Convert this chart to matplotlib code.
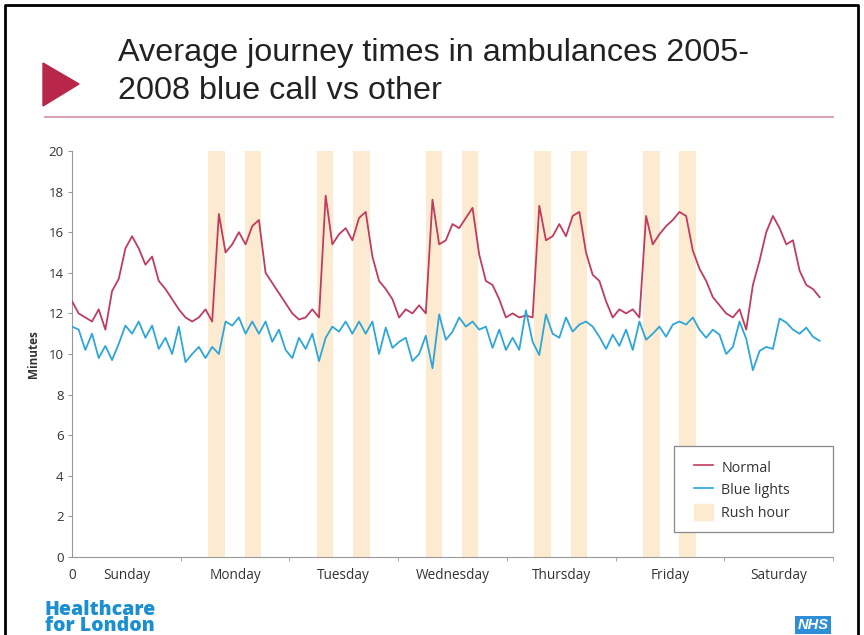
import numpy as np
import matplotlib.pyplot as plt
from matplotlib.patches import Patch, Polygon, Rectangle
from matplotlib.lines import Line2D

# average journey time (minutes), one reading every 168/114 hours, Sunday 00:00 onwards
normal = [12.6, 12.0, 11.8, 11.6, 12.2, 11.2, 13.1, 13.7, 15.2, 15.8, 15.2, 14.4, 14.8, 13.6, 13.2, 12.7,
          12.2, 11.8, 11.6, 11.8, 12.2, 11.6, 16.9, 15.0, 15.4, 16.0, 15.4, 16.3, 16.6, 14.0, 13.5, 13.0,
          12.5, 12.0, 11.7, 11.8, 12.2, 11.8, 17.8, 15.4, 15.9, 16.2, 15.6, 16.7, 17.0, 14.8, 13.6, 13.2,
          12.7, 11.8, 12.2, 12.0, 12.4, 12.0, 17.6, 15.4, 15.6, 16.4, 16.2, 16.7, 17.2, 14.9, 13.6, 13.4,
          12.7, 11.8, 12.0, 11.8, 11.9, 11.8, 17.3, 15.6, 15.8, 16.4, 15.8, 16.8, 17.0, 15.0, 13.9, 13.6,
          12.6, 11.8, 12.2, 12.0, 12.2, 11.8, 16.8, 15.4, 15.9, 16.3, 16.6, 17.0, 16.8, 15.1, 14.2, 13.6,
          12.8, 12.4, 12.0, 11.8, 12.2, 11.2, 13.4, 14.6, 16.0, 16.8, 16.2, 15.4, 15.6, 14.1, 13.4, 13.2,
          12.8]
blue = [11.35, 11.2, 10.2, 11.0, 9.8, 10.4, 9.7, 10.5, 11.4, 11.0, 11.6, 10.8, 11.4, 10.25, 10.8, 10.0,
        11.35, 9.6, 10.0, 10.35, 9.8, 10.35, 10.0, 11.6, 11.4, 11.8, 11.0, 11.6, 11.0, 11.6, 10.6, 11.2,
        10.2, 9.8, 10.8, 10.25, 11.0, 9.65, 10.8, 11.35, 11.1, 11.6, 11.0, 11.6, 11.0, 11.6, 10.0, 11.3,
        10.3, 10.6, 10.8, 9.65, 10.0, 10.9, 9.3, 11.95, 10.7, 11.1, 11.8, 11.35, 11.6, 11.2, 11.35, 10.3,
        11.2, 10.2, 10.8, 10.2, 12.15, 10.6, 9.95, 11.95, 11.0, 10.8, 11.8, 11.1, 11.45, 11.6, 11.35, 10.85,
        10.25, 10.95, 10.4, 11.2, 10.2, 11.6, 10.7, 11.0, 11.35, 10.85, 11.45, 11.6, 11.45, 11.8, 11.2, 10.8,
        11.2, 10.95, 10.0, 10.35, 11.6, 10.75, 9.2, 10.15, 10.35, 10.25, 11.75, 11.55, 11.2, 11.0, 11.3, 10.85,
        10.65]
days = ['Sunday', 'Monday', 'Tuesday', 'Wednesday', 'Thursday', 'Friday', 'Saturday']
rush_days = [1, 2, 3, 4, 5]
rush_windows = [(6.1, 9.7), (14.1, 17.7)]   # hours into the day

hours = np.arange(len(normal)) * 168 / 114

red_c = '#c03c5e'
blue_c = '#2ea6da'
rush_c = '#fcebd1'
txt_c = '#333333'

plt.rcParams['font.family'] = ['Open Sans', 'DejaVu Sans']

fig = plt.figure(figsize=(8.64, 6.35), dpi=100, facecolor='white')
ax = fig.add_axes([72/864, 78/635, 761/864, 406/635])

for d in rush_days:
    for a, b in rush_windows:
        ax.axvspan(d*24 + a, d*24 + b, color=rush_c, lw=0, zorder=0)

ax.plot(hours, normal, color=red_c, lw=1.3, zorder=3)
ax.plot(hours, blue, color=blue_c, lw=1.3, zorder=3)

ax.set_xlim(0, 168)
ax.set_ylim(0, 20)
ax.set_yticks(np.arange(0, 21, 2))
ax.set_xticks([0] + [i*24 + 12 for i in range(7)])
ax.set_xticklabels(['0'] + days)
ax.set_xticks(np.arange(24, 169, 24), minor=True)
ax.tick_params(axis='x', which='major', length=0, pad=8, labelsize=9.8, colors=txt_c)
ax.tick_params(axis='x', which='minor', length=3, color='#999999')
ax.tick_params(axis='y', length=3, color='#999999', labelsize=9.5, colors=txt_c, pad=3)
for s in ['top', 'right']:
    ax.spines[s].set_visible(False)
for s in ['left', 'bottom']:
    ax.spines[s].set_color('#999999')
ax.set_ylabel('Minutes', fontsize=8.5, fontweight='bold', color=txt_c, labelpad=6)

# legend: frame drawn separately so its size matches the slide
ax.add_patch(Rectangle((674/864, 1 - 532/635), 159/864, 86/635, transform=fig.transFigure,
                       fc='white', ec='#888888', lw=0.9, zorder=5, clip_on=False))
handles = [Line2D([], [], color=red_c, lw=1.2),
           Line2D([], [], color=blue_c, lw=1.2),
           Patch(color=rush_c)]
leg = ax.legend(handles, ['Normal', 'Blue lights', 'Rush hour'], loc='upper left',
                bbox_to_anchor=(694/864, 1 - 459/635), bbox_transform=fig.transFigure,
                fontsize=10.3, frameon=False, handlelength=1.3, handleheight=1.3, borderpad=0,
                labelspacing=0.42, handletextpad=0.6, borderaxespad=0)
leg.set_zorder(6)
for t in leg.get_texts():
    t.set_color(txt_c)

# slide furniture
fig.text(118/864, 1 - 72/635, 'Average journey times in ambulances 2005-\n2008 blue call vs other',
         fontsize=23.3, family='Liberation Sans', color='#222222', va='center', linespacing=1.33)
fig.patches.append(Polygon([[43/864, 1 - 63/635], [43/864, 1 - 106/635], [79/864, 1 - 84/635]],
                           closed=True, transform=fig.transFigure, color='#b8274a'))
fig.add_artist(Line2D([45/864, 833/864], [1 - 117/635, 1 - 117/635], color='#d9a3b9', lw=1.5))
fig.text(45/864, -1/635, 'Healthcare\nfor London', fontsize=14, fontweight='heavy', color='#1c8fd1',
         va='bottom', linespacing=0.72, family='Open Sans')
fig.text(813/864, 1 - 625/635, 'NHS', fontsize=10.5, fontweight='bold', style='italic', color='white',
         ha='center', va='center', family='Liberation Sans',
         bbox=dict(boxstyle='square,pad=0.15', fc='#2f8fd6', ec='none'))
fig.add_artist(Line2D([5/864, 5/864, 858/864, 858/864], [0, 1 - 5/635, 1 - 5/635, 0],
                      color='black', lw=2))

fig.savefig('out.png', dpi=100)
